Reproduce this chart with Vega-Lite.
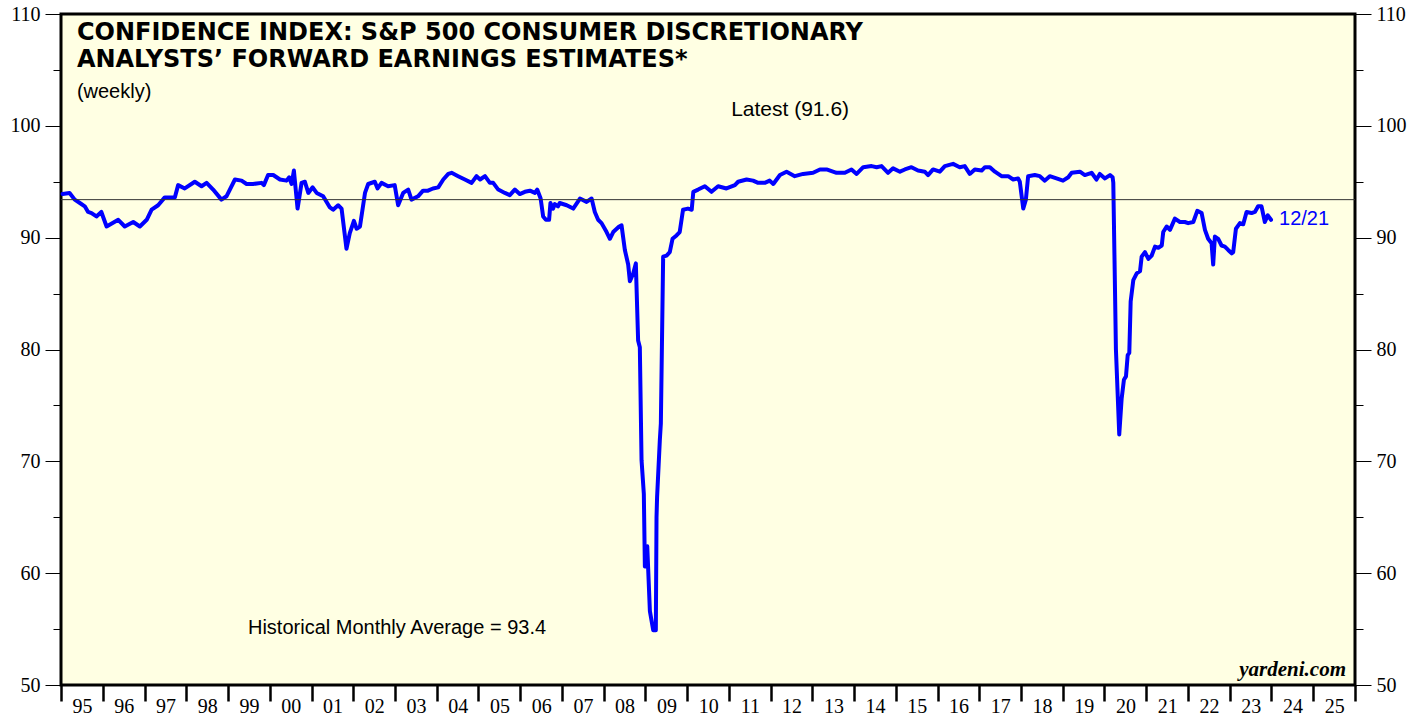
{
  "$schema": "https://vega.github.io/schema/vega-lite/v6.json",
  "width": 1294,
  "height": 671,
  "autosize": {"type": "none"},
  "padding": {"left": 61, "top": 14, "right": 72, "bottom": 32},
  "background": "white",
  "config": {
    "view": {"stroke": "black", "strokeWidth": 3, "fill": "#FFFFE3"},
    "axis": {"labelFont": "Liberation Serif", "labelFontSize": 20, "labelColor": "black", "tickColor": "black", "domain": false, "grid": false, "title": null}
  },
  "datasets": {
    "series": [
      {"date": "1995-01-15", "value": 93.9}, {"date": "1995-03-17", "value": 94.0}, {"date": "1995-05-01", "value": 93.4}, {"date": "1995-06-15", "value": 93.1}, {"date": "1995-07-28", "value": 92.8}, {"date": "1995-08-26", "value": 92.3}, {"date": "1995-09-25", "value": 92.2}, {"date": "1995-11-07", "value": 91.9}, {"date": "1995-12-20", "value": 92.3},
      {"date": "1996-02-04", "value": 91.0}, {"date": "1996-05-16", "value": 91.6}, {"date": "1996-07-12", "value": 91.0}, {"date": "1996-09-24", "value": 91.4}, {"date": "1996-11-21", "value": 91.0},
      {"date": "1997-01-20", "value": 91.6}, {"date": "1997-03-04", "value": 92.5}, {"date": "1997-04-30", "value": 92.9}, {"date": "1997-06-27", "value": 93.6}, {"date": "1997-09-23", "value": 93.6}, {"date": "1997-10-22", "value": 94.7}, {"date": "1997-12-19", "value": 94.4},
      {"date": "1998-03-17", "value": 95.0}, {"date": "1998-05-15", "value": 94.6}, {"date": "1998-06-28", "value": 94.9}, {"date": "1998-08-24", "value": 94.3}, {"date": "1998-11-05", "value": 93.4}, {"date": "1998-12-19", "value": 93.7},
      {"date": "1999-03-03", "value": 95.2}, {"date": "1999-04-30", "value": 95.1}, {"date": "1999-06-13", "value": 94.8}, {"date": "1999-08-09", "value": 94.8}, {"date": "1999-10-22", "value": 94.9}, {"date": "1999-11-11", "value": 94.7}, {"date": "1999-12-18", "value": 95.6},
      {"date": "2000-02-01", "value": 95.6}, {"date": "2000-03-31", "value": 95.2}, {"date": "2000-05-28", "value": 95.1}, {"date": "2000-06-20", "value": 95.4}, {"date": "2000-07-11", "value": 94.8}, {"date": "2000-07-31", "value": 96.0}, {"date": "2000-09-01", "value": 92.6}, {"date": "2000-10-06", "value": 94.9}, {"date": "2000-11-04", "value": 95.0}, {"date": "2000-12-04", "value": 94.0},
      {"date": "2001-01-11", "value": 94.5}, {"date": "2001-02-15", "value": 94.0}, {"date": "2001-04-13", "value": 93.7}, {"date": "2001-06-11", "value": 92.7}, {"date": "2001-07-09", "value": 92.5}, {"date": "2001-08-22", "value": 92.9}, {"date": "2001-09-21", "value": 92.6}, {"date": "2001-11-03", "value": 89.0}, {"date": "2001-12-02", "value": 90.4},
      {"date": "2002-01-07", "value": 91.5}, {"date": "2002-01-31", "value": 90.8}, {"date": "2002-03-01", "value": 91.0}, {"date": "2002-04-14", "value": 94.0}, {"date": "2002-05-12", "value": 94.8}, {"date": "2002-07-09", "value": 95.0}, {"date": "2002-08-02", "value": 94.4}, {"date": "2002-09-06", "value": 94.9}, {"date": "2002-11-02", "value": 94.6}, {"date": "2002-12-30", "value": 94.7},
      {"date": "2003-01-29", "value": 92.9}, {"date": "2003-03-14", "value": 94.0}, {"date": "2003-04-27", "value": 94.3}, {"date": "2003-05-26", "value": 93.4}, {"date": "2003-07-22", "value": 93.7}, {"date": "2003-09-04", "value": 94.2}, {"date": "2003-10-17", "value": 94.2}, {"date": "2003-11-30", "value": 94.4},
      {"date": "2004-01-15", "value": 94.5}, {"date": "2004-02-28", "value": 95.2}, {"date": "2004-04-12", "value": 95.7}, {"date": "2004-05-11", "value": 95.8}, {"date": "2004-07-07", "value": 95.5}, {"date": "2004-09-04", "value": 95.2}, {"date": "2004-11-02", "value": 94.9}, {"date": "2004-12-15", "value": 95.5},
      {"date": "2005-01-15", "value": 95.2}, {"date": "2005-02-27", "value": 95.5}, {"date": "2005-04-11", "value": 94.9}, {"date": "2005-05-10", "value": 94.9}, {"date": "2005-06-23", "value": 94.3}, {"date": "2005-08-20", "value": 94.0}, {"date": "2005-10-02", "value": 93.8}, {"date": "2005-11-15", "value": 94.3}, {"date": "2005-12-28", "value": 93.9},
      {"date": "2006-02-11", "value": 94.1}, {"date": "2006-03-27", "value": 94.2}, {"date": "2006-05-10", "value": 94.0}, {"date": "2006-05-30", "value": 94.3}, {"date": "2006-06-29", "value": 93.5}, {"date": "2006-07-21", "value": 91.9}, {"date": "2006-08-14", "value": 91.6}, {"date": "2006-09-11", "value": 91.6}, {"date": "2006-09-23", "value": 93.1}, {"date": "2006-10-16", "value": 92.6}, {"date": "2006-10-31", "value": 93.0}, {"date": "2006-11-28", "value": 92.8}, {"date": "2006-12-13", "value": 93.1},
      {"date": "2007-02-12", "value": 92.9}, {"date": "2007-04-10", "value": 92.6}, {"date": "2007-06-08", "value": 93.5}, {"date": "2007-08-05", "value": 93.2}, {"date": "2007-09-18", "value": 93.5}, {"date": "2007-10-16", "value": 92.3}, {"date": "2007-11-14", "value": 91.6}, {"date": "2007-12-14", "value": 91.3},
      {"date": "2008-01-27", "value": 90.5}, {"date": "2008-02-25", "value": 89.9}, {"date": "2008-03-25", "value": 90.5}, {"date": "2008-05-16", "value": 91.0}, {"date": "2008-06-06", "value": 91.1}, {"date": "2008-07-05", "value": 88.9}, {"date": "2008-08-03", "value": 87.6}, {"date": "2008-08-18", "value": 86.1}, {"date": "2008-09-16", "value": 86.8}, {"date": "2008-10-09", "value": 87.7}, {"date": "2008-10-29", "value": 80.8}, {"date": "2008-11-13", "value": 80.2}, {"date": "2008-11-28", "value": 70.1}, {"date": "2008-12-18", "value": 67.1}, {"date": "2008-12-27", "value": 60.6},
      {"date": "2009-01-17", "value": 62.4}, {"date": "2009-02-09", "value": 56.6}, {"date": "2009-03-10", "value": 54.9}, {"date": "2009-04-02", "value": 54.9}, {"date": "2009-04-08", "value": 65.0}, {"date": "2009-04-13", "value": 66.8}, {"date": "2009-05-07", "value": 71.9}, {"date": "2009-05-16", "value": 73.4}, {"date": "2009-06-05", "value": 88.3}, {"date": "2009-07-05", "value": 88.4}, {"date": "2009-08-02", "value": 88.7}, {"date": "2009-08-26", "value": 89.9}, {"date": "2009-09-30", "value": 90.2}, {"date": "2009-10-28", "value": 90.5}, {"date": "2009-11-26", "value": 92.5},
      {"date": "2010-01-08", "value": 92.6}, {"date": "2010-02-10", "value": 92.5}, {"date": "2010-02-24", "value": 94.1}, {"date": "2010-04-07", "value": 94.3}, {"date": "2010-06-05", "value": 94.6}, {"date": "2010-08-02", "value": 94.1}, {"date": "2010-09-29", "value": 94.6}, {"date": "2010-12-11", "value": 94.4},
      {"date": "2011-02-23", "value": 94.7}, {"date": "2011-03-23", "value": 95.0}, {"date": "2011-06-05", "value": 95.2}, {"date": "2011-08-01", "value": 95.1}, {"date": "2011-09-14", "value": 94.9}, {"date": "2011-11-11", "value": 94.9}, {"date": "2011-12-24", "value": 95.1},
      {"date": "2012-01-25", "value": 94.8}, {"date": "2012-03-23", "value": 95.6}, {"date": "2012-05-20", "value": 95.9}, {"date": "2012-07-31", "value": 95.5}, {"date": "2012-10-12", "value": 95.7},
      {"date": "2013-01-07", "value": 95.8}, {"date": "2013-03-08", "value": 96.1}, {"date": "2013-05-05", "value": 96.1}, {"date": "2013-07-31", "value": 95.8}, {"date": "2013-10-12", "value": 95.8}, {"date": "2013-12-09", "value": 96.1},
      {"date": "2014-01-23", "value": 95.7}, {"date": "2014-03-22", "value": 96.3}, {"date": "2014-06-03", "value": 96.4}, {"date": "2014-07-17", "value": 96.3}, {"date": "2014-08-29", "value": 96.4}, {"date": "2014-10-25", "value": 95.8}, {"date": "2014-12-08", "value": 96.2},
      {"date": "2015-02-06", "value": 95.9}, {"date": "2015-03-21", "value": 96.1}, {"date": "2015-05-18", "value": 96.3}, {"date": "2015-07-14", "value": 96.0}, {"date": "2015-09-11", "value": 95.9}, {"date": "2015-10-10", "value": 95.6}, {"date": "2015-11-23", "value": 96.1},
      {"date": "2016-01-21", "value": 95.9}, {"date": "2016-03-05", "value": 96.4}, {"date": "2016-05-16", "value": 96.6}, {"date": "2016-07-13", "value": 96.3}, {"date": "2016-08-26", "value": 96.4}, {"date": "2016-10-09", "value": 95.7}, {"date": "2016-11-22", "value": 96.1},
      {"date": "2017-01-21", "value": 96.0}, {"date": "2017-02-19", "value": 96.3}, {"date": "2017-04-03", "value": 96.3}, {"date": "2017-05-17", "value": 95.9}, {"date": "2017-07-14", "value": 95.5}, {"date": "2017-09-10", "value": 95.5}, {"date": "2017-10-24", "value": 95.2}, {"date": "2017-12-06", "value": 95.3}, {"date": "2017-12-21", "value": 95.0},
      {"date": "2018-01-20", "value": 92.6}, {"date": "2018-02-12", "value": 93.4}, {"date": "2018-03-04", "value": 95.5}, {"date": "2018-05-01", "value": 95.6}, {"date": "2018-06-14", "value": 95.5}, {"date": "2018-07-28", "value": 95.1}, {"date": "2018-09-09", "value": 95.5}, {"date": "2018-11-07", "value": 95.3},
      {"date": "2019-01-03", "value": 95.1}, {"date": "2019-02-18", "value": 95.4}, {"date": "2019-03-20", "value": 95.8}, {"date": "2019-05-31", "value": 95.9}, {"date": "2019-07-13", "value": 95.6}, {"date": "2019-09-10", "value": 95.8}, {"date": "2019-10-23", "value": 95.2}, {"date": "2019-11-21", "value": 95.7},
      {"date": "2020-01-05", "value": 95.3}, {"date": "2020-02-18", "value": 95.6}, {"date": "2020-03-12", "value": 95.4}, {"date": "2020-03-18", "value": 94.9}, {"date": "2020-04-01", "value": 85.9}, {"date": "2020-04-10", "value": 80.0}, {"date": "2020-05-09", "value": 72.4}, {"date": "2020-05-30", "value": 75.6}, {"date": "2020-06-19", "value": 77.3}, {"date": "2020-07-07", "value": 77.6}, {"date": "2020-07-22", "value": 79.5}, {"date": "2020-08-05", "value": 79.7}, {"date": "2020-08-17", "value": 84.3}, {"date": "2020-09-09", "value": 86.2}, {"date": "2020-10-09", "value": 86.8}, {"date": "2020-11-07", "value": 87.0}, {"date": "2020-11-21", "value": 88.3}, {"date": "2020-12-20", "value": 88.7},
      {"date": "2021-01-19", "value": 88.1}, {"date": "2021-02-17", "value": 88.4}, {"date": "2021-03-18", "value": 89.2}, {"date": "2021-04-16", "value": 89.1}, {"date": "2021-05-16", "value": 89.3}, {"date": "2021-05-29", "value": 90.5}, {"date": "2021-06-28", "value": 91.0}, {"date": "2021-07-27", "value": 90.7}, {"date": "2021-09-08", "value": 91.7}, {"date": "2021-10-22", "value": 91.4}, {"date": "2021-12-04", "value": 91.4},
      {"date": "2022-01-02", "value": 91.3}, {"date": "2022-02-16", "value": 91.4}, {"date": "2022-03-23", "value": 92.4}, {"date": "2022-04-30", "value": 92.2}, {"date": "2022-05-29", "value": 90.7}, {"date": "2022-06-26", "value": 89.9}, {"date": "2022-07-26", "value": 89.5}, {"date": "2022-08-09", "value": 87.6}, {"date": "2022-08-24", "value": 90.1}, {"date": "2022-09-22", "value": 89.9}, {"date": "2022-10-21", "value": 89.3}, {"date": "2022-11-19", "value": 89.2}, {"date": "2022-12-18", "value": 88.9},
      {"date": "2023-01-18", "value": 88.6}, {"date": "2023-01-31", "value": 88.7}, {"date": "2023-02-24", "value": 90.8}, {"date": "2023-03-31", "value": 91.3}, {"date": "2023-04-29", "value": 91.2}, {"date": "2023-05-28", "value": 92.3}, {"date": "2023-07-11", "value": 92.2}, {"date": "2023-08-09", "value": 92.3}, {"date": "2023-09-06", "value": 92.8}, {"date": "2023-10-06", "value": 92.8}, {"date": "2023-11-04", "value": 91.4}, {"date": "2023-11-30", "value": 92.0}, {"date": "2023-12-28", "value": 91.6}
    ],
    "average": [{"date": "2010-01-01", "value": 93.4}],
    "titleText": [
      {"date": "1995-05-20", "value": 108.3, "text": "CONFIDENCE INDEX: S&P 500 CONSUMER DISCRETIONARY"},
      {"date": "1995-05-20", "value": 105.9, "text": "ANALYSTS’ FORWARD EARNINGS ESTIMATES*"}
    ],
    "plainLeft": [
      {"date": "1995-05-20", "value": 103.0, "text": "(weekly)"},
      {"date": "1999-06-25", "value": 55.1, "text": "Historical Monthly Average = 93.4"}
    ],
    "plainCenter": [
      {"date": "2012-06-20", "value": 101.4, "text": "Latest (91.6)"}
    ],
    "latestDate": [
      {"date": "2024-03-07", "value": 91.7, "text": "12/21"}
    ],
    "brand": [
      {"date": "2025-10-14", "value": 51.3, "text": "yardeni.com"}
    ]
  },
  "resolve": {"axis": {"y": "independent"}},
  "layer": [
    {
      "data": {"name": "series"},
      "mark": {"type": "line", "color": "#0000FF", "strokeWidth": 4, "strokeJoin": "round", "strokeCap": "round"},
      "encoding": {
        "x": {
          "field": "date", "type": "temporal",
          "scale": {"domain": [{"year": 1995, "month": 1, "date": 1}, {"year": 2026, "month": 1, "date": 1}]},
          "axis": {
            "orient": "bottom", "tickCount": {"interval": "year", "step": 1},
            "labelExpr": "year(datum.value) < 2026 ? timeFormat(datum.value, '%y') : ''",
            "tickSize": 16, "tickWidth": 2.5, "labelOffset": 21, "labelPadding": -5,
            "labelAlign": "center", "labelBaseline": "top", "labelFlush": false, "labelOverlap": false, "labelBound": false
          }
        },
        "y": {
          "field": "value", "type": "quantitative",
          "scale": {"domain": [50, 110], "nice": false, "zero": false},
          "axis": {
            "orient": "left", "values": [50, 55, 60, 65, 70, 75, 80, 85, 90, 95, 100, 105, 110],
            "labelExpr": "datum.value % 10 === 0 ? datum.label : ''",
            "tickSize": {"condition": {"test": "datum.value % 10 === 0", "value": 16}, "value": 8},
            "tickWidth": 1, "labelPadding": 5, "labelOverlap": false, "labelBound": false, "labelFlush": false
          }
        }
      }
    },
    {
      "data": {"name": "average"},
      "mark": {"type": "rule", "color": "#333333", "strokeWidth": 1},
      "encoding": {
        "y": {
          "field": "value", "type": "quantitative",
          "axis": {
            "orient": "right", "values": [50, 55, 60, 65, 70, 75, 80, 85, 90, 95, 100, 105, 110],
            "labelExpr": "datum.value % 10 === 0 ? datum.label : ''",
            "tickSize": {"condition": {"test": "datum.value % 10 === 0", "value": 16}, "value": 8},
            "tickWidth": 1, "labelPadding": 5, "labelOverlap": false, "labelBound": false, "labelFlush": false
          }
        }
      }
    },
    {
      "data": {"name": "titleText"},
      "mark": {"type": "text", "font": "DejaVu Sans", "fontWeight": "bold", "fontSize": 24, "align": "left", "baseline": "middle", "color": "black"},
      "encoding": {
        "x": {"field": "date", "type": "temporal"},
        "y": {"field": "value", "type": "quantitative", "axis": null},
        "text": {"field": "text"}
      }
    },
    {
      "data": {"name": "plainLeft"},
      "mark": {"type": "text", "font": "Liberation Sans", "fontSize": 20, "align": "left", "baseline": "middle", "color": "black"},
      "encoding": {
        "x": {"field": "date", "type": "temporal"},
        "y": {"field": "value", "type": "quantitative", "axis": null},
        "text": {"field": "text"}
      }
    },
    {
      "data": {"name": "plainCenter"},
      "mark": {"type": "text", "font": "Liberation Sans", "fontSize": 21, "align": "center", "baseline": "middle", "color": "black"},
      "encoding": {
        "x": {"field": "date", "type": "temporal"},
        "y": {"field": "value", "type": "quantitative", "axis": null},
        "text": {"field": "text"}
      }
    },
    {
      "data": {"name": "latestDate"},
      "mark": {"type": "text", "font": "Liberation Sans", "fontSize": 20, "align": "left", "baseline": "middle", "color": "#0000FF"},
      "encoding": {
        "x": {"field": "date", "type": "temporal"},
        "y": {"field": "value", "type": "quantitative", "axis": null},
        "text": {"field": "text"}
      }
    },
    {
      "data": {"name": "brand"},
      "mark": {"type": "text", "font": "Liberation Serif", "fontWeight": "bold", "fontStyle": "italic", "fontSize": 21, "align": "right", "baseline": "middle", "color": "black"},
      "encoding": {
        "x": {"field": "date", "type": "temporal"},
        "y": {"field": "value", "type": "quantitative", "axis": null},
        "text": {"field": "text"}
      }
    }
  ]
}
